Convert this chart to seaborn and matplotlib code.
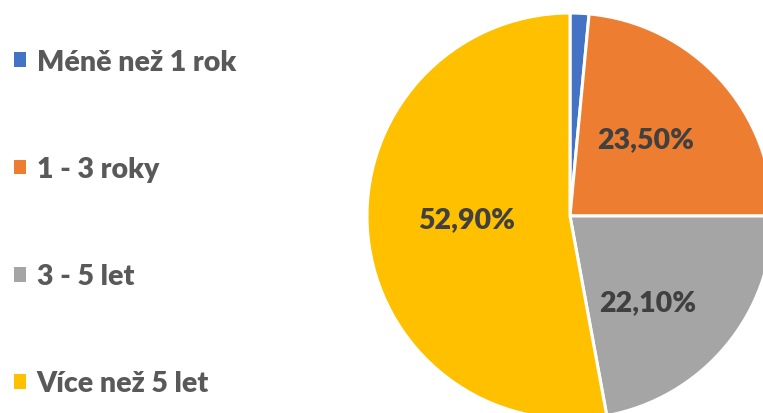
import numpy as np
import matplotlib
matplotlib.use("Agg")
import matplotlib.pyplot as plt
import matplotlib.patches as mpatches
import seaborn as sns

# Délka působení – podíl respondentů
categories = ["Méně než 1 rok", "1 - 3 roky", "3 - 5 let", "Více než 5 let"]
shares = [1.5, 23.5, 22.1, 52.9]
colors = ["#4472C4", "#ED7D31", "#A5A5A5", "#FFC000"]

sns.set_theme(style="white")
plt.rcParams["font.family"] = ["Lato", "DejaVu Sans"]

W, H = 763, 414
fig = plt.figure(figsize=(W / 100, H / 100), dpi=100)
fig.patch.set_facecolor("white")
ax = fig.add_axes([0, 0, 1, 1])

center = (570, 197)
radius = 203

wedges, texts, autotexts = ax.pie(
    shares,
    colors=colors,
    startangle=90,
    counterclock=False,
    center=center,
    radius=radius,
    autopct=lambda p: f"{p:.2f}%".replace(".", ","),
    pctdistance=0.55,
    wedgeprops=dict(edgecolor="white", linewidth=2.2),
    textprops=dict(color="#404040", fontsize=20.5, fontweight="heavy"),
    frame=True,
)
ax.set_xlim(0, W)
ax.set_ylim(0, H)
ax.set_aspect("equal")
ax.axis("off")

# label offsets from the pie centre (pixels)
label_offsets = [(25, 219), (76, 77), (78, -86), (-103, -3)]
for t, (dx, dy) in zip(autotexts, label_offsets):
    t.set_position((center[0] + dx, center[1] + dy))
    t.set_ha("center")
    t.set_va("center")
autotexts[0].set_va("bottom")

handles = [mpatches.Patch(facecolor=c, edgecolor="none") for c in colors]
leg = fig.legend(
    handles, categories,
    loc="upper left",
    bbox_to_anchor=(14 / W, 1 - 50 / H),
    bbox_transform=fig.transFigure,
    frameon=False,
    borderaxespad=0,
    borderpad=0,
    handlelength=0.42,
    handleheight=0.42,
    handletextpad=0.38,
    labelspacing=2.85,
    prop=dict(weight="heavy", size=20.5),
)
for t in leg.get_texts():
    t.set_color("#595959")

fig.savefig("out.png", dpi=100, facecolor="white")
